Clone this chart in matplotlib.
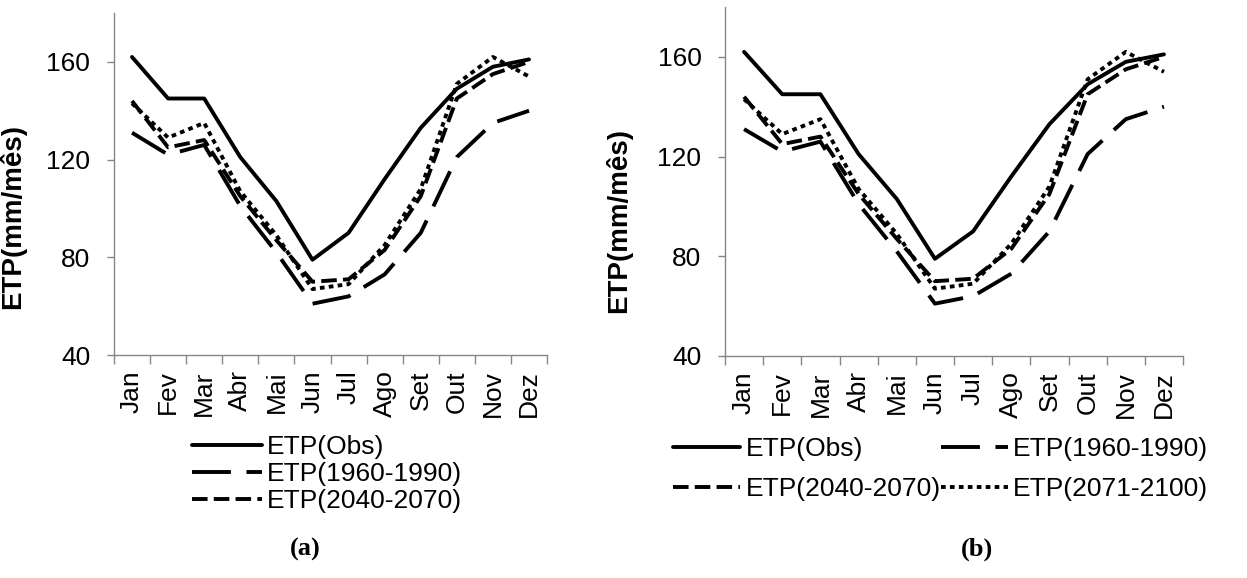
import numpy as np
import matplotlib.pyplot as plt
from matplotlib.ticker import FixedLocator

plt.rcParams['font.family'] = ['Liberation Sans', 'DejaVu Sans']

# dados (ETP mensal, mm/mês)
meses = ['Jan', 'Fev', 'Mar', 'Abr', 'Mai', 'Jun', 'Jul', 'Ago', 'Set', 'Out', 'Nov', 'Dez']
etp_obs = [162, 145, 145, 121, 103, 79, 90, 112, 133, 149, 158, 161]
etp_1960_1990 = [131, 122, 126, 101, 82, 61, 64, 73, 90, 121, 135, 140]
etp_2040_2070 = [144, 125, 128, 105, 87, 70, 71, 83, 105, 145, 155, 160]
etp_2071_2100 = [143, 129, 135, 107, 89, 67, 69, 85, 108, 151, 162, 154]

series = [
    ('ETP(Obs)', etp_obs, '-'),
    ('ETP(1960-1990)', etp_1960_1990, (0, (10, 4))),
    ('ETP(2040-2070)', etp_2040_2070, (0, (4, 1.6))),
    ('ETP(2071-2100)', etp_2071_2100, (0, (1.2, 1.1))),
]

GRAY = '#868686'
LW = 2.8
FS = 19

fig = plt.figure(figsize=(12.47, 5.78), dpi=100)
ax_a = fig.add_axes([0.0914, 0.3858, 0.3473, 0.5917])
ax_b = fig.add_axes([0.5814, 0.3841, 0.3673, 0.6038])


def desenha(ax, label_y):
    x = np.arange(len(meses))
    linhas = []
    for nome, vals, ls in series:
        ln, = ax.plot(x, vals, color='black', lw=LW, linestyle=ls,
                      dash_capstyle='butt', solid_capstyle='round', label=nome)
        linhas.append(ln)
    ax.set_xlim(-0.5, len(meses) - 0.5)
    ax.set_ylim(40, 180)
    ax.set_yticks([40, 80, 120, 160])
    ax.set_xticks(x)
    ax.set_xticklabels(meses, rotation=90)
    ax.xaxis.set_minor_locator(FixedLocator(np.arange(-0.5, len(meses), 1.0)))
    ax.tick_params(axis='x', which='major', length=0, pad=11, labelsize=FS)
    ax.tick_params(axis='x', which='minor', length=6.5, color=GRAY, width=1)
    ax.tick_params(axis='y', length=5, color=GRAY, width=1, pad=12, labelsize=FS)
    for s in ['top', 'right']:
        ax.spines[s].set_visible(False)
    for s in ['left', 'bottom']:
        ax.spines[s].set_color(GRAY)
        ax.spines[s].set_linewidth(1)
    ax.set_ylabel('ETP(mm/mês)', fontsize=20, fontweight='bold')
    ax.yaxis.set_label_coords(-0.203, label_y)
    return linhas


la = desenha(ax_a, 0.406)
lb = desenha(ax_b, 0.387)

fig.legend(handles=la[:3], loc='upper left', bbox_to_anchor=(0.154, 0.2475),
           frameon=False, fontsize=FS, borderpad=0, borderaxespad=0,
           handlelength=2.65, handletextpad=0.2, labelspacing=0.12)
# ordem por linhas: Obs | 1960-1990 / 2040-2070 | 2071-2100
fig.legend(handles=[lb[0], lb[2], lb[1], lb[3]], loc='upper left',
           bbox_to_anchor=(0.5397, 0.244), frameon=False, fontsize=FS,
           borderpad=0, borderaxespad=0, ncol=2, handlelength=2.55,
           handletextpad=0.2, labelspacing=0.6, columnspacing=0.0)

fig.text(0.2446, 0.05, '(a)', ha='center', va='center', fontsize=19,
         fontweight='bold', family=['Liberation Serif', 'DejaVu Serif'])
fig.text(0.7835, 0.05, '(b)', ha='center', va='center', fontsize=19,
         fontweight='bold', family=['Liberation Serif', 'DejaVu Serif'])

fig.savefig('out.png', dpi=100)
